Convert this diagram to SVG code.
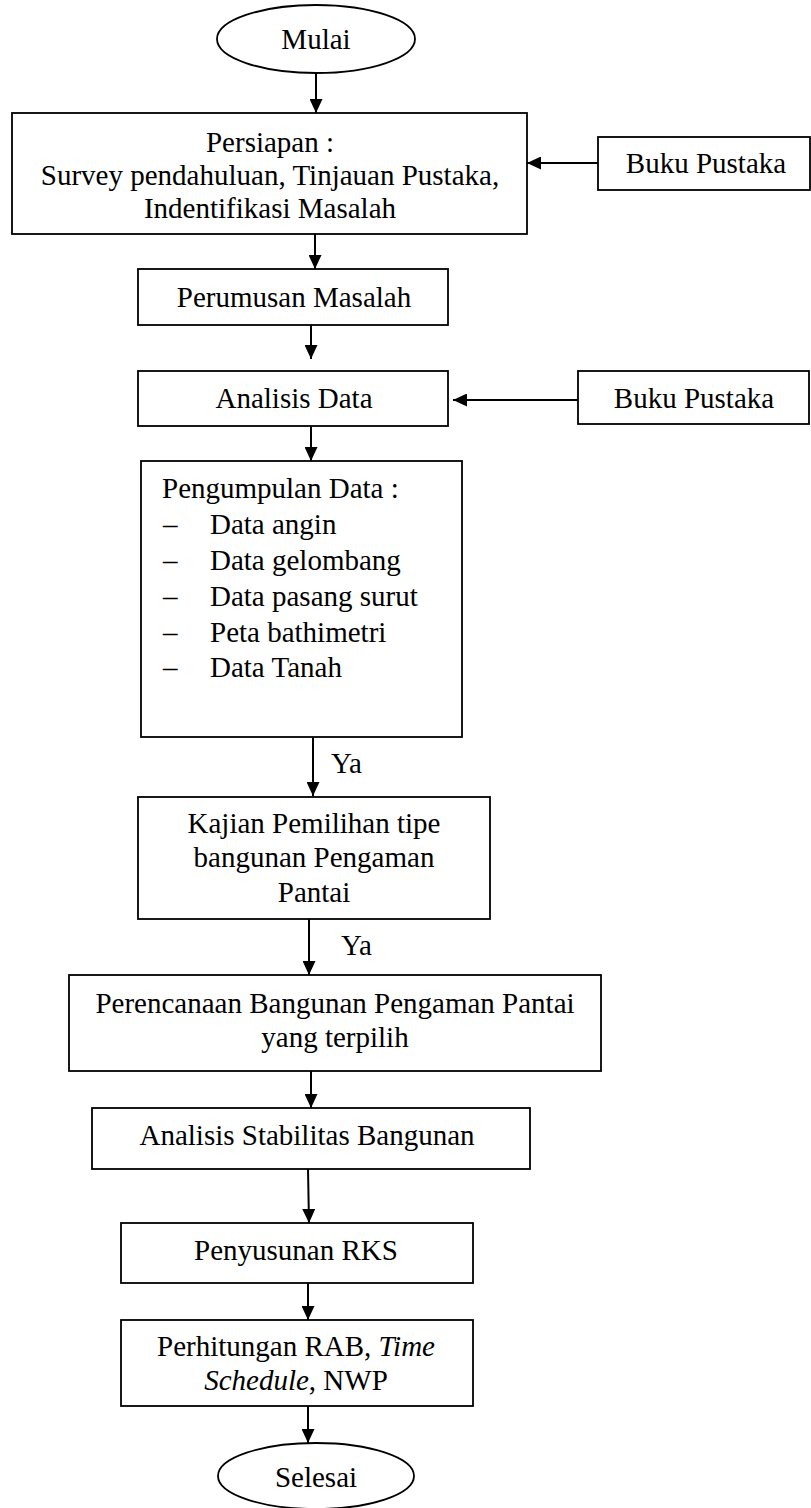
<svg xmlns="http://www.w3.org/2000/svg" width="811" height="1508" viewBox="0 0 811 1508">
<style>
.box{fill:#fff;stroke:#000;stroke-width:1.8}
.t{font-family:"Liberation Serif","Times New Roman",serif;font-size:29px;fill:#000}
.c{text-anchor:middle}
.con{stroke:#000;stroke-width:2;fill:none;marker-end:url(#ah)}
</style>
<defs>
<marker id="ah" markerUnits="userSpaceOnUse" markerWidth="14" markerHeight="13" refX="14" refY="6.5" orient="auto">
<path d="M0,0 L14,6.5 L0,13 z" fill="#000"/>
</marker>
</defs>
<rect width="811" height="1508" fill="#fff"/>
<g id="connectors">
<line class="con" x1="316" y1="73" x2="316" y2="113"/>
<line class="con" x1="598" y1="163" x2="527" y2="163"/>
<line class="con" x1="315" y1="234" x2="315" y2="269"/>
<line class="con" x1="311" y1="325" x2="311" y2="359"/>
<line class="con" x1="578" y1="400" x2="453" y2="400"/>
<line class="con" x1="311" y1="426" x2="311" y2="461"/>
<line class="con" x1="313" y1="737" x2="313" y2="796"/>
<line class="con" x1="309" y1="919" x2="309" y2="975"/>
<line class="con" x1="311" y1="1071" x2="311" y2="1108"/>
<line class="con" x1="308" y1="1169" x2="309" y2="1223"/>
<line class="con" x1="308" y1="1283" x2="308" y2="1320"/>
<line class="con" x1="308" y1="1406" x2="308" y2="1443"/>
<text class="t" x="331" y="773">Ya</text>
<text class="t" x="341" y="955">Ya</text>
</g>
<g id="mulai">
<ellipse class="box" cx="316" cy="39" rx="99" ry="34"/>
<text class="t c" x="316" y="49">Mulai</text>
</g>
<g id="persiapan">
<rect class="box" x="12" y="113" width="515" height="121"/>
<text class="t c" x="270" y="152">Persiapan :</text>
<text class="t c" x="270" y="185">Survey pendahuluan, Tinjauan Pustaka,</text>
<text class="t c" x="270" y="218">Indentifikasi Masalah</text>
</g>
<g id="buku1">
<rect class="box" x="598" y="137" width="212" height="53"/>
<text class="t c" x="706" y="173">Buku Pustaka</text>
</g>
<g id="perumusan">
<rect class="box" x="138" y="269" width="310" height="56"/>
<text class="t c" x="294" y="307">Perumusan Masalah</text>
</g>
<g id="analisis-data">
<rect class="box" x="138" y="371" width="310" height="55"/>
<text class="t c" x="294" y="408">Analisis Data</text>
</g>
<g id="buku2">
<rect class="box" x="578" y="371" width="231" height="53"/>
<text class="t c" x="694" y="408">Buku Pustaka</text>
</g>
<g id="pengumpulan">
<rect class="box" x="141" y="461" width="321" height="276"/>
<text class="t" x="162" y="498">Pengumpulan Data :</text>
<text class="t" x="163" y="534">–</text><text class="t" x="210" y="534">Data angin</text>
<text class="t" x="163" y="570">–</text><text class="t" x="210" y="570">Data gelombang</text>
<text class="t" x="163" y="606">–</text><text class="t" x="210" y="606">Data pasang surut</text>
<text class="t" x="163" y="642">–</text><text class="t" x="210" y="642">Peta bathimetri</text>
<text class="t" x="163" y="677">–</text><text class="t" x="210" y="677">Data Tanah</text>
</g>
<g id="kajian">
<rect class="box" x="138" y="797" width="352" height="122"/>
<text class="t c" x="314" y="833">Kajian Pemilihan tipe</text>
<text class="t c" x="314" y="867">bangunan Pengaman</text>
<text class="t c" x="314" y="902">Pantai</text>
</g>
<g id="perencanaan">
<rect class="box" x="69" y="975" width="532" height="96"/>
<text class="t c" x="335" y="1013">Perencanaan Bangunan Pengaman Pantai</text>
<text class="t c" x="335" y="1047">yang terpilih</text>
</g>
<g id="analisis-stabilitas">
<rect class="box" x="92" y="1108" width="438" height="61"/>
<text class="t c" x="307" y="1145">Analisis Stabilitas Bangunan</text>
</g>
<g id="penyusunan">
<rect class="box" x="121" y="1223" width="352" height="60"/>
<text class="t c" x="296" y="1260">Penyusunan RKS</text>
</g>
<g id="perhitungan">
<rect class="box" x="121" y="1320" width="352" height="86"/>
<text class="t c" x="296" y="1356">Perhitungan RAB, <tspan font-style="italic">Time</tspan></text>
<text class="t c" x="296" y="1390"><tspan font-style="italic">Schedule</tspan>, NWP</text>
</g>
<g id="selesai">
<ellipse class="box" cx="316" cy="1476" rx="98" ry="33"/>
<text class="t c" x="316" y="1487">Selesai</text>
</g>
</svg>
